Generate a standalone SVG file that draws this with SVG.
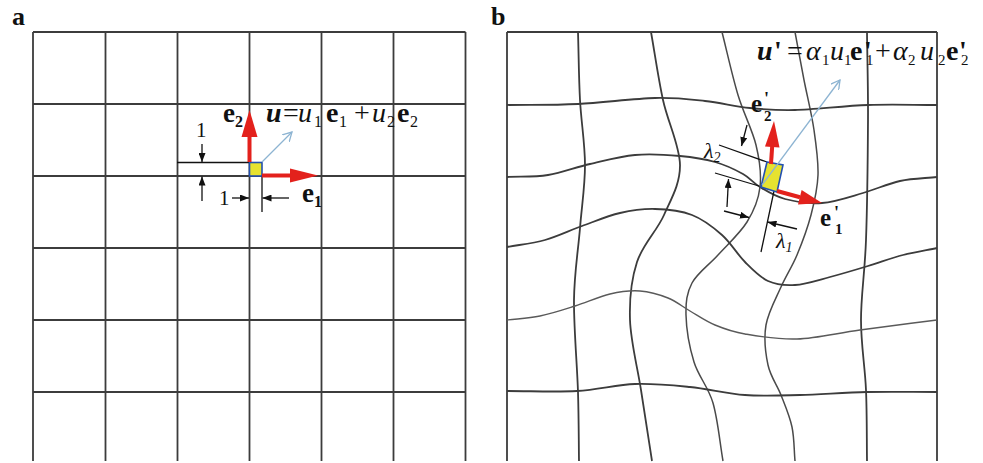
<svg xmlns="http://www.w3.org/2000/svg" width="983" height="463" viewBox="0 0 983 463">
<style>
.g{fill:none;stroke:#3c3c3c;stroke-width:1.8}
.gl{fill:none;stroke:#4a4a4a;stroke-width:1.5}
.gm{fill:none;stroke:#5a5a5a;stroke-width:1.4}
.dim{fill:none;stroke:#111;stroke-width:1.3}
.da{fill:none;stroke:#111;stroke-width:1.3;marker-end:url(#ah)}
.ua{fill:none;stroke:#8db4d2;stroke-width:1.3;marker-end:url(#oh)}
.red{fill:#e3211c;stroke:none}
.rs{stroke:#e3211c;stroke-width:4;fill:none}
.cell{fill:#e6e230;stroke:#2350b0;stroke-width:1.6}
.t{font-family:"Liberation Serif","Times New Roman",serif;fill:#111}
.b{font-weight:bold}
.i{font-style:italic}
.bi{font-weight:bold;font-style:italic}
</style>
<defs>
<marker id="ah" viewBox="0 0 9 7" refX="9" refY="3.5" markerWidth="9" markerHeight="7" markerUnits="userSpaceOnUse" orient="auto"><path d="M0,0 L9,3.5 L0,7 z" fill="#111"/></marker>
<marker id="oh" viewBox="0 0 10 10" refX="9" refY="5" markerWidth="10" markerHeight="10" markerUnits="userSpaceOnUse" orient="auto"><path d="M0,0 L9,5 L0,10" fill="none" stroke="#8db4d2" stroke-width="1.3"/></marker>
</defs>
<rect width="983" height="463" fill="#fff"/>

<g id="panel-labels">
<text class="t b" x="12" y="25" font-size="26">a</text>
<text class="t b" x="491" y="25" font-size="26">b</text>
</g>

<g id="grid-a">
<path class="g" d="M33,32V461 M105.5,32V461 M177.5,32V461 M249.5,32V461 M321.5,32V461 M393.5,32V461 M465.5,32V461"/>
<path class="g" d="M33,32H465.5 M33,104H465.5 M33,176H465.5 M33,248H465.5 M33,320H465.5 M33,392H465.5"/>
</g>

<g id="cell-a">
<path class="dim" d="M177,162.5H249 M262,176V212"/>
<rect class="cell" x="249.5" y="162.5" width="12.5" height="13.5"/>
<path class="ua" d="M262,162 L292,132"/>
<path class="rs" d="M249.5,162V135"/>
<polygon class="red" points="249.5,110 257.5,137 241.5,137"/>
<path class="rs" d="M262,175.5H292"/>
<polygon class="red" points="318,175.5 290,168.5 290,182.5"/>
<path class="da" d="M202,144V162"/>
<path class="da" d="M202,201V176.5"/>
<path class="da" d="M232,198H249"/>
<path class="da" d="M289,198H262.5"/>
<text class="t" x="196" y="137" font-size="21">1</text>
<text class="t" x="219" y="205" font-size="21">1</text>
<text class="t b" x="223" y="122" font-size="27">e<tspan font-size="16" dy="5">2</tspan></text>
<text class="t b" x="302" y="202" font-size="27">e<tspan font-size="16" dy="5">1</tspan></text>
<text class="t" y="122" font-size="28"><tspan class="bi" x="266">u</tspan><tspan x="283">=</tspan><tspan class="i" x="298">u</tspan><tspan x="314" dy="5" font-size="16">1</tspan><tspan class="b" x="326" dy="-5">e</tspan><tspan x="339" dy="5" font-size="16">1</tspan><tspan x="354" dy="-5">+</tspan><tspan class="i" x="372">u</tspan><tspan x="387" dy="5" font-size="16">2</tspan><tspan class="b" x="397" dy="-5">e</tspan><tspan x="410" dy="5" font-size="16">2</tspan></text>
</g>

<g id="grid-b">
<path class="g" d="M507,32H937 M507,32V461 M937,32V461"/>
<path class="g" d="M578,32 C578.7,54.7 578.8,77.8 580,100 S585,143.7 585,165 S581.8,205.5 580,228 S574.3,272.7 574,300 S577.2,365.2 578,392 S578.7,438 579,461"/>
<path class="g" d="M651,32 C655,54.7 658.2,77.8 663,100 S679.8,145.8 680,165 S671.2,198.8 664,215 S642.7,244.5 637,262 S629.3,298.7 630,320 S637.3,366.5 641,390 S648.3,437.3 652,461"/>
<path class="gl" d="M722,32 C727.3,53 732.3,76.2 738,95 S752.3,129.7 756,145 S761.5,174.2 760,187 S754,210.7 747,222 S727.2,244.8 718,255 S697.3,273 692,283 S685.7,301.8 686,315 S689.5,347.3 694,362 S708.2,386.5 713,403 S719.7,441.7 723,461"/>
<path class="gl" d="M795,32 C798,48 800.8,63.7 804,80 S811.7,114.2 814,130 S818.5,160.8 818,175 S814.5,201.7 811,215 S802,243 797,255 S786.2,275.3 781,287 S768.2,312 766,325 S765.5,353.3 768,365 S777,384.7 781,395 S789.7,416 792,427 S794,449.7 795,461"/>
<path class="g" d="M867,32 C867.3,61.3 868.2,85.3 868,120 S867.2,206.7 866,240 S861,295 861,320 S865,366.5 866,390 S866.7,437.3 867,461"/>
<path class="g" d="M507,105 C530.7,104.7 553.3,105.2 578,104 S633.8,98.5 655,98 S689.2,99.3 705,101 S735,106.5 750,108 S775.3,110.5 795,110 S844.3,105.8 868,105 S914,105 937,105"/>
<path class="g" d="M507,177 C520.7,176.3 534.2,177.2 548,175 S575.5,167.3 590,164 S620,156.3 635,155 S666.7,154.8 680,156 S704.5,159 715,162 S735.5,169.8 743,174 S753,182.8 760,187 S774.7,196.3 785,199 S809,204 822,203 S850,196.7 863,193 S887.7,183.7 900,181 S924.7,178.3 937,177"/>
<path class="g" d="M507,247 C519.7,244.7 532.5,243.5 545,240 S569.5,230.5 582,226 S607.8,215.8 620,213 S643,208.7 655,209 S680.8,210.7 692,215 S713.2,227.2 722,235 S737.3,254.3 745,262 S759.7,277.2 768,281 S784.7,285.7 795,285 S817.8,280.2 830,277 S855.8,269.7 868,266 S891.5,258 903,255 S925.7,250.3 937,248"/>
<path class="gm" d="M507,320 C518,318.7 528.7,318.3 540,316 S563.3,309.7 575,306 S599.2,296.5 610,294 S630.3,290.3 640,291 S659.7,294.7 668,298 S682.2,306.5 690,311 S705.8,321.2 715,325 S731.3,331.7 745,334 S777.8,339.7 797,339 S836.7,333.2 860,330 S911.3,323.3 937,320"/>
<path class="g" d="M507,391 C530.3,391 555.7,392.2 577,391 S616.2,384.7 635,384 S671.7,385.2 690,387 S726.7,393.7 745,395 S779.7,395.5 800,395 S844.2,392.5 867,392 S913.7,392 937,392"/>
</g>

<g id="cell-b">
<path class="dim" d="M719,145 L767,162 M715,173 L759,186 M774,191 L761,252"/>
<polygon class="cell" points="767,162 783,165 777,192 761,187"/>
<path class="ua" d="M762,185 L840,80"/>
<path class="rs" d="M771,164 L772.2,146"/>
<polygon class="red" points="774,121 779.5,147.5 765,146.5"/>
<path class="rs" d="M777,191 L800,197.2"/>
<polygon class="red" points="822,203 801.6,190 798,204.5"/>
<path class="da" d="M747,125 L741.5,146"/>
<path class="da" d="M727,207 L728.5,179"/>
<path class="da" d="M724,211 L749,217.5"/>
<path class="da" d="M797,229 L767.5,222"/>
<text class="t i" x="704" y="158" font-size="22">λ<tspan font-size="14" dy="4">2</tspan></text>
<text class="t i" x="776" y="248" font-size="22">λ<tspan font-size="14" dy="4">1</tspan></text>
<text class="t b" x="751" y="112" font-size="25">e<tspan x="764" dy="-7" font-size="18">'</tspan><tspan x="764" dy="16" font-size="15">2</tspan></text>
<text class="t b" x="820" y="226" font-size="25">e<tspan x="834" dy="-7" font-size="18">'</tspan><tspan x="835" dy="15" font-size="15">1</tspan></text>
<text class="t" y="60" font-size="28"><tspan class="bi" x="757">u</tspan><tspan class="b" x="774">'</tspan><tspan x="787">=</tspan><tspan class="i" x="806">α</tspan><tspan x="822" dy="5" font-size="15">1</tspan><tspan class="i" x="830" dy="-5">u</tspan><tspan x="844" dy="5" font-size="15">1</tspan><tspan class="b" x="850" dy="-5">e</tspan><tspan class="b" x="864">'</tspan><tspan x="866" dy="5" font-size="15">1</tspan><tspan x="875" dy="-5">+</tspan><tspan class="i" x="893">α</tspan><tspan x="908" dy="5" font-size="15">2</tspan><tspan class="i" x="920" dy="-5">u</tspan><tspan x="938" dy="5" font-size="15">2</tspan><tspan class="b" x="946" dy="-5">e</tspan><tspan class="b" x="959">'</tspan><tspan x="961" dy="5" font-size="15">2</tspan></text>
</g>
</svg>
